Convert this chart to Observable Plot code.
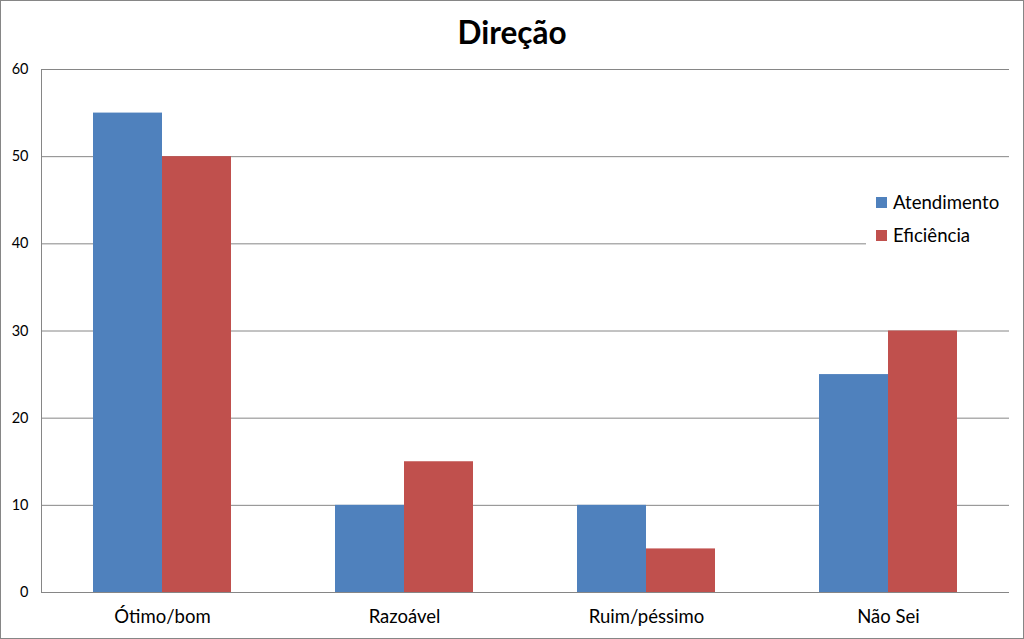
<!DOCTYPE html>
<html>
<head>
<meta charset="utf-8">
<script src="https://cdn.jsdelivr.net/npm/d3@7"></script>
<script src="https://cdn.jsdelivr.net/npm/@observablehq/plot@0.6"></script>
<style>
  html, body { margin: 0; padding: 0; background: #fff; }
  #wrap { position: relative; width: 1024px; height: 639px; box-sizing: border-box; border: 1px solid #868686; font-family: Lato, "Open Sans", sans-serif; overflow: hidden; }
  #title { height: 54px; line-height: 62px; text-align: center; font-weight: bold; font-size: 31.5px; color: #000; }
  #legend { position: absolute; left: 865px; top: 178px; width: 150px; height: 84px; background: #fff; font-size: 18.6px; color: #000; }
  .item { position: absolute; left: 10px; display: flex; align-items: center; }
  .sw { width: 11px; height: 11px; margin-right: 6px; }
  svg { display: block; }
  g[aria-label="y-axis tick label"] text { font-size: 14.5px; }
  g[aria-label="fx-axis tick label"] text { font-size: 18.5px; }
</style>
</head>
<body>
<div id="wrap">
  <div id="title">Direção</div>
  <div id="chart"></div>
  <div id="legend"></div>
</div>
<script>
const categories = ["Ótimo/bom", "Razoável", "Ruim/péssimo", "Não Sei"];
const series = ["Atendimento", "Eficiência"];
const atendimento = [55, 10, 10, 25];
const eficiencia = [50, 15, 5, 30];
const colors = ["#4F81BD", "#C0504D"];
const yTicks = [0, 10, 20, 30, 40, 50, 60];

const data = [];
categories.forEach((c, i) => {
  data.push({category: c, series: series[0], value: atendimento[i]});
  data.push({category: c, series: series[1], value: eficiencia[i]});
});

const chart = Plot.plot({
  width: 1022,
  height: 583,
  marginLeft: 39,
  marginRight: 13,
  marginTop: 14,
  marginBottom: 46,
  style: {fontFamily: "Lato, 'Open Sans', sans-serif", background: "#fff", color: "#000"},
  fx: {domain: categories, paddingInner: 0, paddingOuter: 0, label: null},
  x: {domain: series, paddingInner: 0, paddingOuter: 0.75, axis: null},
  y: {domain: [0, 60], ticks: yTicks, label: null},
  color: {domain: series, range: colors},
  marks: [
    Plot.ruleY(yTicks, {stroke: "#868686", strokeWidth: 1}),
    Plot.barY(data, {fx: "category", x: "series", y: "value", fill: "series"}),
    Plot.frame({anchor: "left", facetAnchor: "left", stroke: "#868686"}),
    Plot.axisY({ticks: yTicks, tickSize: 0, tickPadding: 13, label: null, anchor: "left"}),
    Plot.axisFx({tickSize: 0, tickPadding: 17, label: null, anchor: "bottom"})
  ]
});
document.getElementById("chart").appendChild(chart);

const legend = document.getElementById("legend");
series.forEach((s, i) => {
  const it = document.createElement("div");
  it.className = "item";
  it.style.top = (12 + i * 33) + "px";
  const sw = document.createElement("span");
  sw.className = "sw";
  sw.style.background = colors[i];
  const t = document.createElement("span");
  t.textContent = s;
  it.appendChild(sw);
  it.appendChild(t);
  legend.appendChild(it);
});
</script>
</body>
</html>
